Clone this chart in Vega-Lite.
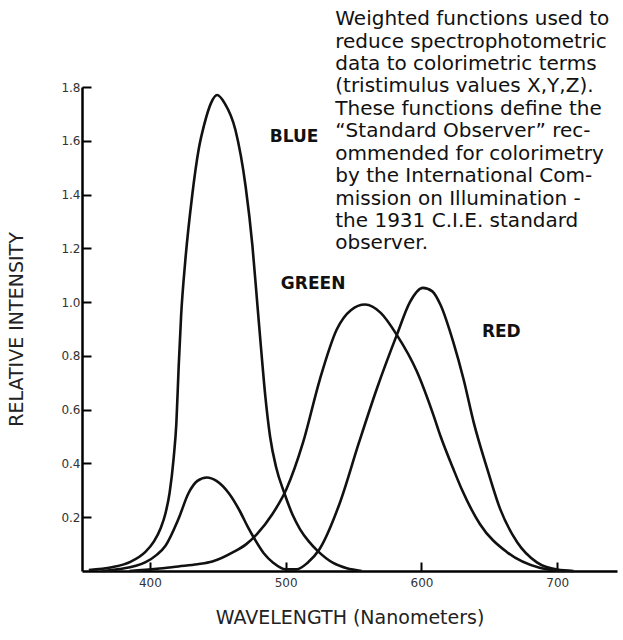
{
  "$schema": "https://vega.github.io/schema/vega-lite/v6.json",
  "width": 535,
  "height": 484,
  "autosize": {"type": "none"},
  "padding": {"left": 82, "top": 87, "right": 6, "bottom": 69},
  "background": "white",
  "config": {
    "view": {"stroke": null},
    "font": "DejaVu Sans",
    "axis": {
      "grid": false,
      "domainColor": "#000",
      "domainWidth": 2.5,
      "tickColor": "#000",
      "tickWidth": 2,
      "tickSize": -9,
      "labelFont": "DejaVu Sans",
      "labelFontSize": 12,
      "labelColor": "#333",
      "titleFont": "DejaVu Sans",
      "titleFontSize": 19,
      "titleFontWeight": "normal",
      "titleColor": "#222"
    }
  },
  "datasets": {
    "curves": [
      {"w": 355, "v": 0.004, "curve": "blue"},
      {"w": 372, "v": 0.014, "curve": "blue"},
      {"w": 386, "v": 0.035, "curve": "blue"},
      {"w": 396.5, "v": 0.07, "curve": "blue"},
      {"w": 403, "v": 0.11, "curve": "blue"},
      {"w": 408, "v": 0.16, "curve": "blue"},
      {"w": 411.5, "v": 0.215, "curve": "blue"},
      {"w": 414.5, "v": 0.29, "curve": "blue"},
      {"w": 417.5, "v": 0.42, "curve": "blue"},
      {"w": 419.5, "v": 0.55, "curve": "blue"},
      {"w": 421.2, "v": 0.76, "curve": "blue"},
      {"w": 423, "v": 0.95, "curve": "blue"},
      {"w": 426, "v": 1.15, "curve": "blue"},
      {"w": 431, "v": 1.39, "curve": "blue"},
      {"w": 436, "v": 1.57, "curve": "blue"},
      {"w": 440, "v": 1.66, "curve": "blue"},
      {"w": 445, "v": 1.74, "curve": "blue"},
      {"w": 449.5, "v": 1.77, "curve": "blue"},
      {"w": 455, "v": 1.74, "curve": "blue"},
      {"w": 463, "v": 1.64, "curve": "blue"},
      {"w": 470.5, "v": 1.43, "curve": "blue"},
      {"w": 475.5, "v": 1.21, "curve": "blue"},
      {"w": 479, "v": 1.0, "curve": "blue"},
      {"w": 482, "v": 0.82, "curve": "blue"},
      {"w": 485, "v": 0.65, "curve": "blue"},
      {"w": 488.5, "v": 0.5, "curve": "blue"},
      {"w": 493, "v": 0.385, "curve": "blue"},
      {"w": 499, "v": 0.29, "curve": "blue"},
      {"w": 505, "v": 0.21, "curve": "blue"},
      {"w": 510.5, "v": 0.156, "curve": "blue"},
      {"w": 517, "v": 0.11, "curve": "blue"},
      {"w": 523.5, "v": 0.075, "curve": "blue"},
      {"w": 535, "v": 0.03, "curve": "blue"},
      {"w": 545, "v": 0.01, "curve": "blue"},
      {"w": 556, "v": 0.0, "curve": "blue"},

      {"w": 365, "v": 0.0, "curve": "red"},
      {"w": 377, "v": 0.007, "curve": "red"},
      {"w": 396.5, "v": 0.032, "curve": "red"},
      {"w": 405, "v": 0.06, "curve": "red"},
      {"w": 411.5, "v": 0.094, "curve": "red"},
      {"w": 421, "v": 0.193, "curve": "red"},
      {"w": 428.5, "v": 0.29, "curve": "red"},
      {"w": 435, "v": 0.335, "curve": "red"},
      {"w": 442, "v": 0.348, "curve": "red"},
      {"w": 449, "v": 0.335, "curve": "red"},
      {"w": 458, "v": 0.29, "curve": "red"},
      {"w": 466, "v": 0.225, "curve": "red"},
      {"w": 472, "v": 0.165, "curve": "red"},
      {"w": 477, "v": 0.12, "curve": "red"},
      {"w": 484, "v": 0.065, "curve": "red"},
      {"w": 491, "v": 0.03, "curve": "red"},
      {"w": 500, "v": 0.006, "curve": "red"},
      {"w": 508, "v": 0.006, "curve": "red"},
      {"w": 516, "v": 0.03, "curve": "red"},
      {"w": 525, "v": 0.082, "curve": "red"},
      {"w": 540, "v": 0.255, "curve": "red"},
      {"w": 554, "v": 0.478, "curve": "red"},
      {"w": 567, "v": 0.676, "curve": "red"},
      {"w": 582, "v": 0.88, "curve": "red"},
      {"w": 591.5, "v": 1.0, "curve": "red"},
      {"w": 601, "v": 1.053, "curve": "red"},
      {"w": 608, "v": 1.04, "curve": "red"},
      {"w": 614, "v": 0.99, "curve": "red"},
      {"w": 623.5, "v": 0.85, "curve": "red"},
      {"w": 631, "v": 0.713, "curve": "red"},
      {"w": 638.5, "v": 0.552, "curve": "red"},
      {"w": 648.5, "v": 0.379, "curve": "red"},
      {"w": 658, "v": 0.23, "curve": "red"},
      {"w": 670.5, "v": 0.107, "curve": "red"},
      {"w": 685, "v": 0.032, "curve": "red"},
      {"w": 700, "v": 0.005, "curve": "red"},
      {"w": 712, "v": 0.0, "curve": "red"},

      {"w": 385, "v": 0.0, "curve": "green"},
      {"w": 405, "v": 0.008, "curve": "green"},
      {"w": 421, "v": 0.017, "curve": "green"},
      {"w": 435, "v": 0.025, "curve": "green"},
      {"w": 446, "v": 0.035, "curve": "green"},
      {"w": 461, "v": 0.069, "curve": "green"},
      {"w": 471, "v": 0.1, "curve": "green"},
      {"w": 479, "v": 0.138, "curve": "green"},
      {"w": 490, "v": 0.21, "curve": "green"},
      {"w": 500.5, "v": 0.304, "curve": "green"},
      {"w": 512.8, "v": 0.478, "curve": "green"},
      {"w": 525.2, "v": 0.713, "curve": "green"},
      {"w": 537.6, "v": 0.898, "curve": "green"},
      {"w": 548, "v": 0.97, "curve": "green"},
      {"w": 558.5, "v": 0.991, "curve": "green"},
      {"w": 570, "v": 0.96, "curve": "green"},
      {"w": 581.6, "v": 0.88, "curve": "green"},
      {"w": 596.8, "v": 0.74, "curve": "green"},
      {"w": 609, "v": 0.577, "curve": "green"},
      {"w": 614, "v": 0.502, "curve": "green"},
      {"w": 623.5, "v": 0.379, "curve": "green"},
      {"w": 630, "v": 0.3, "curve": "green"},
      {"w": 643, "v": 0.175, "curve": "green"},
      {"w": 663, "v": 0.07, "curve": "green"},
      {"w": 687, "v": 0.012, "curve": "green"},
      {"w": 705, "v": 0.0, "curve": "green"}
    ],
    "notes": [
      {"w": 536.5, "v": 2.052, "t": "Weighted functions used to"},
      {"w": 536.5, "v": 1.968, "t": "reduce  spectrophotometric"},
      {"w": 536.5, "v": 1.885, "t": "data to colorimetric terms"},
      {"w": 536.5, "v": 1.802, "t": "(tristimulus  values X,Y,Z)."},
      {"w": 536.5, "v": 1.718, "t": "These functions define the"},
      {"w": 536.5, "v": 1.635, "t": "\u201cStandard Observer\u201d  rec-"},
      {"w": 536.5, "v": 1.552, "t": "ommended for colorimetry"},
      {"w": 536.5, "v": 1.469, "t": "by the International Com-"},
      {"w": 536.5, "v": 1.385, "t": "mission on Illumination -"},
      {"w": 536.5, "v": 1.302, "t": "the 1931  C.I.E.  standard"},
      {"w": 536.5, "v": 1.219, "t": "observer."}
    ],
    "labels": [
      {"w": 506.2, "v": 1.613, "t": "BLUE"},
      {"w": 520.2, "v": 1.067, "t": "GREEN"},
      {"w": 658.8, "v": 0.888, "t": "RED"}
    ]
  },
  "layer": [
    {
      "data": {"name": "curves"},
      "mark": {"type": "line", "interpolate": "monotone", "color": "#111", "strokeWidth": 2.6},
      "encoding": {
        "x": {
          "field": "w", "type": "quantitative",
          "scale": {"domain": [350, 744], "nice": false, "zero": false},
          "axis": {"values": [400, 500, 600, 700], "title": "WAVELENGTH (Nanometers)", "labelPadding": 15, "titlePadding": 20}
        },
        "y": {
          "field": "v", "type": "quantitative",
          "scale": {"domain": [0, 1.8], "nice": false},
          "axis": {"values": [0.2, 0.4, 0.6, 0.8, 1.0, 1.2, 1.4, 1.6, 1.8], "format": ".1f", "title": "RELATIVE INTENSITY", "labelPadding": 11, "titlePadding": 34}
        },
        "detail": {"field": "curve", "type": "nominal"}
      }
    },
    {
      "data": {"name": "notes"},
      "mark": {"type": "text", "align": "left", "baseline": "middle", "font": "DejaVu Sans", "fontSize": 20, "color": "#111"},
      "encoding": {
        "x": {"field": "w", "type": "quantitative"},
        "y": {"field": "v", "type": "quantitative"},
        "text": {"field": "t", "type": "nominal"}
      }
    },
    {
      "data": {"name": "labels"},
      "mark": {"type": "text", "align": "center", "baseline": "middle", "font": "DejaVu Sans", "fontSize": 17, "fontWeight": "bold", "color": "#111"},
      "encoding": {
        "x": {"field": "w", "type": "quantitative"},
        "y": {"field": "v", "type": "quantitative"},
        "text": {"field": "t", "type": "nominal"}
      }
    }
  ]
}
